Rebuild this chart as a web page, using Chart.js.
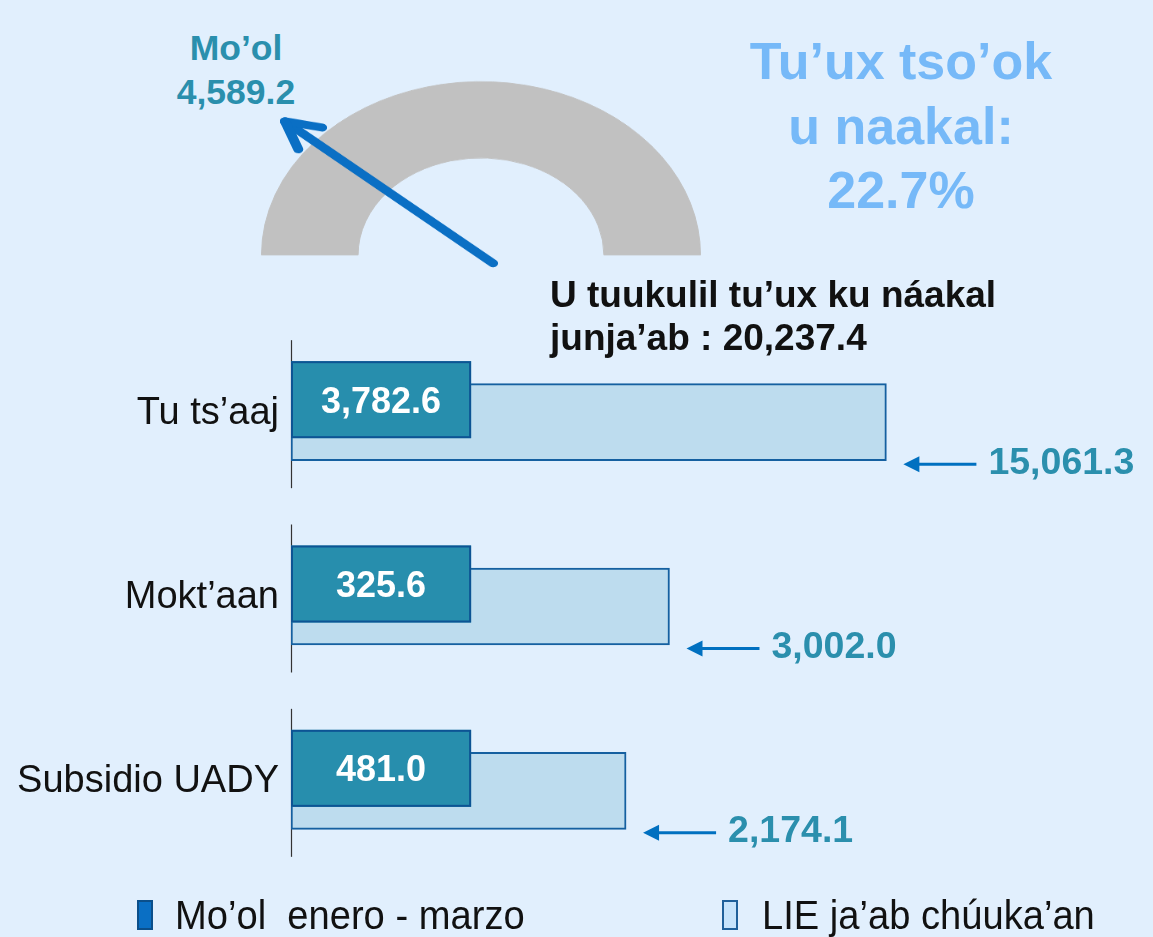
<!DOCTYPE html>
<html>
<head>
<meta charset="utf-8">
<title>Tu’ux tso’ok u naakal</title>
<script src="https://cdn.jsdelivr.net/npm/chart.js@4.4.1/dist/chart.umd.min.js"></script>
<style>
  html, body { margin: 0; padding: 0; }
  body {
    width: 1153px; height: 937px; position: relative; overflow: hidden;
    background: #e1effd;
    font-family: "Liberation Sans", Arial, sans-serif;
  }
  .abs { position: absolute; }
  canvas { display: block; }
  #gaugeBox { left: 261px; top: 34px; width: 440px; height: 240px; transform: scaleY(0.79); transform-origin: 50% 222px; }
  #barBox { left: 0; top: 290px; width: 1153px; height: 633px; }
  #molLabel { left: 136px; top: 26px; width: 200px; text-align: center; color: #2a8fad; font-weight: bold; font-size: 35.5px; line-height: 44px; }
  #pctLabel { left: 701px; top: 29px; width: 400px; text-align: center; color: #76b9f8; font-weight: bold; font-size: 52px; line-height: 64.5px; }
  #totalLabel { left: 550px; top: 273px; color: #111; font-weight: bold; font-size: 37px; line-height: 43px; white-space: nowrap; }
  .legend-item { position: absolute; top: 897px; height: 40px; font-size: 41px; line-height: 36px; color: #111; white-space: pre; }
  .legend-item i { position: absolute; left: 0; top: 3px; width: 16px; height: 30px; box-sizing: border-box; border: 2px solid #0b4f8a; }
  .legend-item span { position: absolute; top: 0; transform: scaleX(0.93); transform-origin: 0 50%; }
</style>
</head>
<body>
<div id="molLabel" class="abs"></div>
<div id="pctLabel" class="abs"></div>
<div id="gaugeBox" class="abs"><canvas id="gaugeChart" width="440" height="240"></canvas></div>
<div id="barBox" class="abs"><canvas id="barChart" width="1153" height="633"></canvas></div>
<div id="totalLabel" class="abs"></div>
<div id="legend"></div>

<script>
// Data
const categories = ['Tu ts’aaj', 'Mokt’aan', 'Subsidio UADY'];
const molEneroMarzo = [3782.6, 325.6, 481.0];      // Mo'ol enero - marzo
const lieChuukaan = [15061.3, 3002.0, 2174.1];     // LIE ja'ab chúuka'an
const molTotal = 4589.2;
const lieTotal = 20237.4;
const avancePct = 22.7;
const seriesNames = ['Mo’ol  enero - marzo', 'LIE ja’ab chúuka’an'];

const FONT = '"Liberation Sans", Arial, sans-serif';
const fmt = v => v.toLocaleString('en-US', { minimumFractionDigits: 1, maximumFractionDigits: 1 });

// Text blocks
document.getElementById('molLabel').innerHTML = 'Mo’ol<br>' + fmt(molTotal);
document.getElementById('pctLabel').innerHTML = 'Tu’ux tso’ok<br>u naakal:<br>' + avancePct.toFixed(1) + '%';
document.getElementById('totalLabel').innerHTML = 'U tuukulil tu’ux ku náakal<br>junja’ab : ' + fmt(lieTotal);

// Legend
const legendEl = document.getElementById('legend');
[
    { name: seriesNames[0], left: 137, fill: '#0a6fc4', border: '#0b4f8a', gap: 38 },
    { name: seriesNames[1], left: 722, fill: '#c6e3fb', border: '#1e5f9a', gap: 40 }
].forEach(item => {
    const div = document.createElement('div');
    div.className = 'legend-item';
    div.style.left = item.left + 'px';
    div.innerHTML = '<i style="background:' + item.fill + ';border-color:' + item.border + '"></i>' +
        '<span style="left:' + item.gap + 'px">' + item.name + '</span>';
    legendEl.appendChild(div);
});

// 1. Gauge (half doughnut) with needle
const gaugeNeedle = {
    id: 'gaugeNeedle',
    afterDatasetsDraw(chart) {
        const ctx = chart.ctx;
        const arc = chart.getDatasetMeta(0).data[0];
        const { x, y, endAngle, outerRadius } = arc.getProps(['x', 'y', 'endAngle', 'outerRadius'], true);
        const dx = Math.cos(endAngle), dy = Math.sin(endAngle);
        const len = outerRadius * 1.18;
        const tx = x + dx * len, ty = y + dy * len;
        ctx.save();
        ctx.strokeStyle = '#0a6fc4';
        ctx.lineWidth = 10;
        ctx.lineCap = 'round';
        ctx.beginPath();
        ctx.moveTo(x - dx * 16, y - dy * 16);
        ctx.lineTo(tx, ty);
        ctx.stroke();
        [-1, 1].forEach(s => {
            const a = endAngle + Math.PI + s * 0.5;
            ctx.beginPath();
            ctx.moveTo(tx, ty);
            ctx.lineTo(tx + Math.cos(a) * 38, ty + Math.sin(a) * 38);
            ctx.stroke();
        });
        ctx.restore();
    }
};

new Chart(document.getElementById('gaugeChart'), {
    type: 'doughnut',
    data: {
        labels: ['Mo’ol', 'Ma’ naakali’'],
        datasets: [{
            data: [molTotal, lieTotal - molTotal],
            backgroundColor: ['#c1c1c1', '#c1c1c1'],
            borderColor: '#c1c1c1',
            borderWidth: 1
        }]
    },
    options: {
        responsive: false,
        animation: false,
        circumference: 180,
        rotation: -90,
        cutout: '56%',
        layout: { padding: { bottom: 18 } },
        plugins: { legend: { display: false }, tooltip: { enabled: false } }
    },
    plugins: [gaugeNeedle]
});

// 2. Bars: axis segments, value boxes and callout arrows
const barExtras = {
    id: 'barExtras',
    beforeDatasetsDraw(chart) {
        const { ctx, chartArea } = chart;
        ctx.save();
        ctx.strokeStyle = '#333';
        ctx.lineWidth = 1.2;
        chart.getDatasetMeta(0).data.forEach(bar => {
            ctx.beginPath();
            ctx.moveTo(chartArea.left + 0.5, bar.y - 82);
            ctx.lineTo(chartArea.left + 0.5, bar.y + 66);
            ctx.stroke();
        });
        ctx.restore();
    },
    afterDatasetsDraw(chart) {
        const ctx = chart.ctx;
        const bars = chart.getDatasetMeta(0).data;
        ctx.save();
        ctx.font = 'bold 36px ' + FONT;
        const boxW = Math.max(...molEneroMarzo.map(v => ctx.measureText(fmt(v)).width)) + 60;

        bars.forEach((bar, i) => {
            // dark value box (Mo'ol enero - marzo)
            const top = bar.y - 61;
            ctx.fillStyle = '#278ead';
            ctx.fillRect(bar.base, top, boxW, 77);
            ctx.strokeStyle = '#0d5494';
            ctx.lineWidth = 2;
            ctx.strokeRect(bar.base + 1, top + 1, boxW - 2, 75);
            ctx.font = 'bold 36px ' + FONT;
            ctx.fillStyle = '#ffffff';
            ctx.textAlign = 'center';
            ctx.textBaseline = 'alphabetic';
            ctx.fillText(fmt(molEneroMarzo[i]), bar.base + boxW / 2, top + 38.5 + 12.9);

            // callout arrow + LIE value
            const ay = bar.y + 42;
            const head = bar.x + 17, tail = head + 73;
            ctx.strokeStyle = '#0070c0';
            ctx.lineWidth = 3;
            ctx.beginPath();
            ctx.moveTo(tail, ay);
            ctx.lineTo(head + 10, ay);
            ctx.stroke();
            ctx.fillStyle = '#0070c0';
            ctx.beginPath();
            ctx.moveTo(head, ay);
            ctx.lineTo(head + 16, ay - 8);
            ctx.lineTo(head + 16, ay + 8);
            ctx.closePath();
            ctx.fill();
            ctx.font = 'bold 37.5px ' + FONT;
            ctx.fillStyle = '#2b8fad';
            ctx.textAlign = 'left';
            ctx.fillText(fmt(lieChuukaan[i]), tail + 12, ay - 4 + 13.4);
        });
        ctx.restore();
    }
};

new Chart(document.getElementById('barChart'), {
    type: 'bar',
    data: {
        labels: categories,
        datasets: [{
            label: seriesNames[1],
            data: lieChuukaan,
            backgroundColor: '#bddcee',
            borderColor: '#1560a0',
            borderWidth: 2,
            borderSkipped: false,
            barThickness: 77
        }]
    },
    options: {
        indexAxis: 'y',
        responsive: false,
        animation: false,
        layout: { padding: { top: 40, bottom: 40, left: 0, right: 12 } },
        plugins: { legend: { display: false }, tooltip: { enabled: false } },
        scales: {
            x: { type: 'logarithmic', min: 180, max: 100000, display: false },
            y: {
                afterFit(scale) { scale.width = 291; },
                grid: { display: false, drawTicks: false },
                border: { display: false },
                ticks: { color: '#111', font: { size: 38, family: FONT }, padding: 12, labelOffset: -9 }
            }
        }
    },
    plugins: [barExtras]
});
</script>
</body>
</html>
